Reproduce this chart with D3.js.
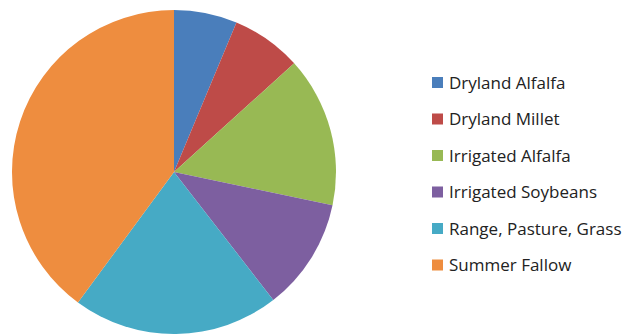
<!DOCTYPE html>
<html>
<head>
<meta charset="utf-8">
<script src="https://cdn.jsdelivr.net/npm/d3@7"></script>
<style>
  body { margin: 0; background: #fff; }
  svg { display: block; }
</style>
</head>
<body>
<div id="chart"></div>
<script>
// Data
const categories = ['Dryland Alfalfa', 'Dryland Millet', 'Irrigated Alfalfa',
                    'Irrigated Soybeans', 'Range, Pasture, Grass', 'Summer Fallow'];
const shares = [6.3, 7.0, 15.0, 11.2, 20.6, 39.9];
const colors = ['#4a7ebb', '#be4b48', '#98b954', '#7d5fa0', '#46aac5', '#ee8d3f'];

const width = 627, height = 334;

const svg = d3.select('#chart').append('svg')
    .attr('width', width)
    .attr('height', height);

const data = categories.map((c, i) => ({ name: c, value: shares[i] }));

const color = d3.scaleOrdinal().domain(categories).range(colors);

// PIE
const pie = d3.pie().value(d => d.value).sort(null);
const arc = d3.arc().innerRadius(0).outerRadius(162);

const g = svg.append('g')
    .attr('transform', 'translate(174,172)');

g.selectAll('path')
    .data(pie(data))
    .enter().append('path')
    .attr('d', arc)
    .attr('fill', d => color(d.data.name));

// LEGEND
const legendY = d3.scalePoint()
    .domain(categories)
    .range([82.5, 265]);

const legend = svg.append('g').attr('class', 'legend');

const items = legend.selectAll('g')
    .data(categories)
    .enter().append('g')
    .attr('transform', d => 'translate(432,' + legendY(d) + ')');

items.append('rect')
    .attr('x', 0)
    .attr('y', -5.5)
    .attr('width', 11)
    .attr('height', 11)
    .attr('fill', d => color(d));

items.append('text')
    .attr('x', 17)
    .attr('y', 6)
    .style('font-family', 'Open Sans, sans-serif')
    .style('font-size', '17px')
    .style('fill', '#222')
    .text(d => d);
</script>
</body>
</html>
